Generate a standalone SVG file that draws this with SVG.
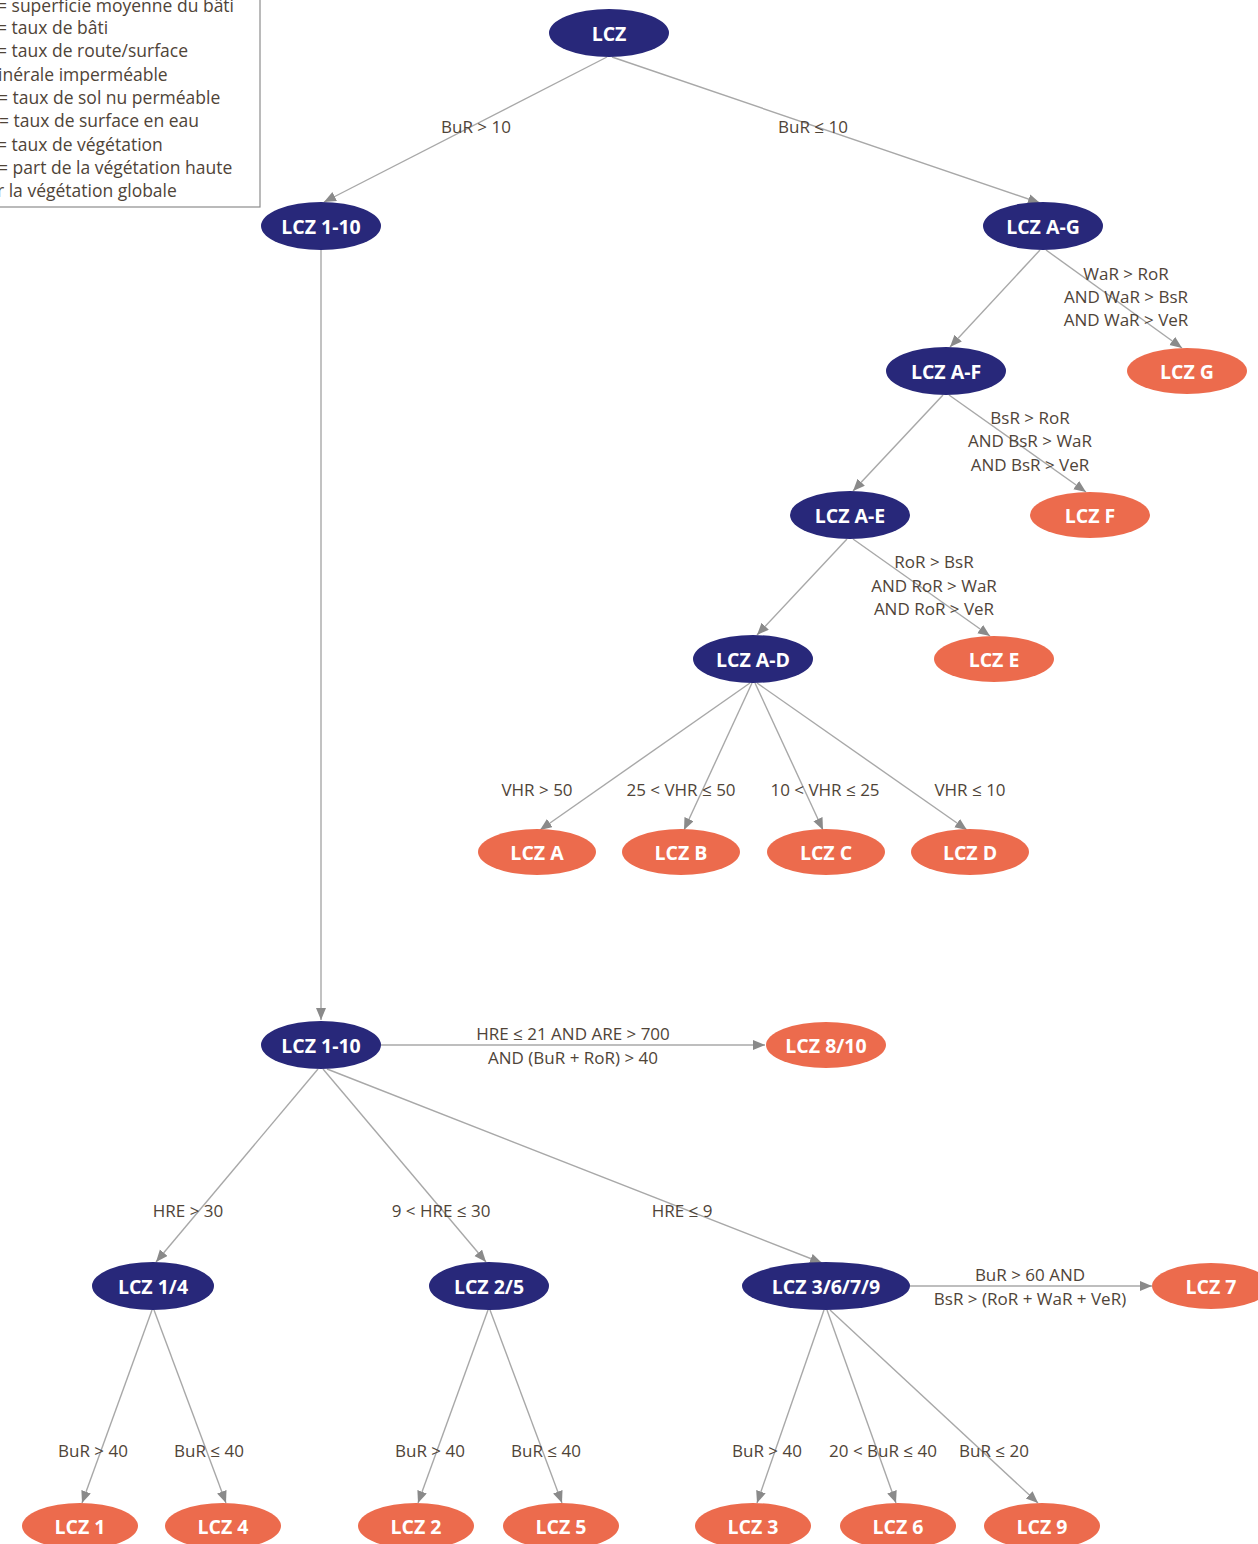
<svg xmlns="http://www.w3.org/2000/svg" width="1258" height="1544" viewBox="0 0 1258 1544">
<defs>
<marker id="ah" markerUnits="userSpaceOnUse" markerWidth="13" markerHeight="11" refX="12" refY="5" orient="auto">
<path d="M0,0 L12,5 L0,10 z" fill="#8a8a8a"/>
</marker>
<style>
.dk{fill:#28287a}
.or{fill:#ec6b4d}
.nt{font-family:"Open Sans","Liberation Sans",sans-serif;font-weight:700;font-size:19.5px;fill:#ffffff;text-anchor:middle;dominant-baseline:central}
.lb{font-family:"Open Sans","Liberation Sans",sans-serif;font-size:17px;fill:#4f4438;text-anchor:middle;dominant-baseline:central}
.lg{font-family:"Open Sans","Liberation Sans",sans-serif;font-size:17.5px;fill:#4f4438;dominant-baseline:central}
.ed{stroke:#a8a8a8;stroke-width:1.4;fill:none;marker-end:url(#ah)}
</style>
</defs>
<rect width="1258" height="1544" fill="#ffffff"/>
<g id="legend">
<rect x="-10" y="-10" width="270" height="217" fill="#ffffff" stroke="#8c8c8c" stroke-width="1.2"/>
<text class="lg" x="-3" y="5">= superficie moyenne du bâti</text>
<text class="lg" x="-3" y="27">= taux de bâti</text>
<text class="lg" x="-3" y="50">= taux de route/surface</text>
<text class="lg" x="-2" y="74">inérale imperméable</text>
<text class="lg" x="-2" y="97">= taux de sol nu perméable</text>
<text class="lg" x="-1" y="120">= taux de surface en eau</text>
<text class="lg" x="-3" y="144">= taux de végétation</text>
<text class="lg" x="-2" y="167">= part de la végétation haute</text>
<text class="lg" x="-3" y="190">r la végétation globale</text>
</g>
<g id="connectors">
<line class="ed" x1="607" y1="57" x2="324" y2="202"/>
<line class="ed" x1="612" y1="57" x2="1040" y2="203"/>
<line class="ed" x1="321" y1="250" x2="321" y2="1020"/>
<line class="ed" x1="1040" y1="250" x2="950" y2="347"/>
<line class="ed" x1="1046" y1="250" x2="1182" y2="348"/>
<line class="ed" x1="943" y1="395" x2="853" y2="491"/>
<line class="ed" x1="949" y1="395" x2="1086" y2="492"/>
<line class="ed" x1="847" y1="539" x2="757" y2="635"/>
<line class="ed" x1="853" y1="539" x2="990" y2="636"/>
<line class="ed" x1="750" y1="683" x2="540" y2="830"/>
<line class="ed" x1="752" y1="683" x2="684" y2="830"/>
<line class="ed" x1="755" y1="683" x2="823" y2="830"/>
<line class="ed" x1="757" y1="683" x2="967" y2="830"/>
<line class="ed" x1="381" y1="1045" x2="765" y2="1045"/>
<line class="ed" x1="318" y1="1069" x2="156" y2="1262"/>
<line class="ed" x1="323" y1="1069" x2="486" y2="1262"/>
<line class="ed" x1="327" y1="1069" x2="822" y2="1263"/>
<line class="ed" x1="910" y1="1286" x2="1152" y2="1286"/>
<line class="ed" x1="152" y1="1310" x2="82" y2="1503"/>
<line class="ed" x1="154" y1="1310" x2="226" y2="1503"/>
<line class="ed" x1="488" y1="1310" x2="418" y2="1503"/>
<line class="ed" x1="490" y1="1310" x2="562" y2="1503"/>
<line class="ed" x1="824" y1="1310" x2="757" y2="1503"/>
<line class="ed" x1="827" y1="1310" x2="896" y2="1503"/>
<line class="ed" x1="830" y1="1310" x2="1038" y2="1503"/>
</g>
<g id="labels">
<text class="lb" x="476" y="126">BuR &gt; 10</text>
<text class="lb" x="813" y="126">BuR ≤ 10</text>
<text class="lb" x="1126" y="273">WaR &gt; RoR</text>
<text class="lb" x="1126" y="296">AND WaR &gt; BsR</text>
<text class="lb" x="1126" y="319">AND WaR &gt; VeR</text>
<text class="lb" x="1030" y="417">BsR &gt; RoR</text>
<text class="lb" x="1030" y="440">AND BsR &gt; WaR</text>
<text class="lb" x="1030" y="464">AND BsR &gt; VeR</text>
<text class="lb" x="934" y="561">RoR &gt; BsR</text>
<text class="lb" x="934" y="585">AND RoR &gt; WaR</text>
<text class="lb" x="934" y="608">AND RoR &gt; VeR</text>
<text class="lb" x="537" y="789">VHR &gt; 50</text>
<text class="lb" x="681" y="789">25 &lt; VHR ≤ 50</text>
<text class="lb" x="825" y="789">10 &lt; VHR ≤ 25</text>
<text class="lb" x="970" y="789">VHR ≤ 10</text>
<text class="lb" x="573" y="1033">HRE ≤ 21 AND ARE &gt; 700</text>
<text class="lb" x="573" y="1057">AND (BuR + RoR) &gt; 40</text>
<text class="lb" x="188" y="1210">HRE &gt; 30</text>
<text class="lb" x="441" y="1210">9 &lt; HRE ≤ 30</text>
<text class="lb" x="682" y="1210">HRE ≤ 9</text>
<text class="lb" x="1030" y="1274">BuR &gt; 60 AND</text>
<text class="lb" x="1030" y="1298">BsR &gt; (RoR + WaR + VeR)</text>
<text class="lb" x="93" y="1450">BuR &gt; 40</text>
<text class="lb" x="209" y="1450">BuR ≤ 40</text>
<text class="lb" x="430" y="1450">BuR &gt; 40</text>
<text class="lb" x="546" y="1450">BuR ≤ 40</text>
<text class="lb" x="767" y="1450">BuR &gt; 40</text>
<text class="lb" x="883" y="1450">20 &lt; BuR ≤ 40</text>
<text class="lb" x="994" y="1450">BuR ≤ 20</text>
</g>
<g id="n-lcz"><ellipse class="dk" cx="609" cy="33" rx="60" ry="24"/><text class="nt" x="609" y="33">LCZ</text></g>
<g id="n-lcz110a"><ellipse class="dk" cx="321" cy="226" rx="60" ry="24"/><text class="nt" x="321" y="226">LCZ 1-10</text></g>
<g id="n-lczag"><ellipse class="dk" cx="1043" cy="226" rx="60" ry="24"/><text class="nt" x="1043" y="226">LCZ A-G</text></g>
<g id="n-lczaf"><ellipse class="dk" cx="946" cy="371" rx="60" ry="24"/><text class="nt" x="946" y="371">LCZ A-F</text></g>
<g id="n-lczg"><ellipse class="or" cx="1187" cy="371" rx="60" ry="23"/><text class="nt" x="1187" y="371">LCZ G</text></g>
<g id="n-lczae"><ellipse class="dk" cx="850" cy="515" rx="60" ry="24"/><text class="nt" x="850" y="515">LCZ A-E</text></g>
<g id="n-lczf"><ellipse class="or" cx="1090" cy="515" rx="60" ry="23"/><text class="nt" x="1090" y="515">LCZ F</text></g>
<g id="n-lczad"><ellipse class="dk" cx="753" cy="659" rx="60" ry="24"/><text class="nt" x="753" y="659">LCZ A-D</text></g>
<g id="n-lcze"><ellipse class="or" cx="994" cy="659" rx="60" ry="23"/><text class="nt" x="994" y="659">LCZ E</text></g>
<g id="n-lcza"><ellipse class="or" cx="537" cy="852" rx="59" ry="23"/><text class="nt" x="537" y="852">LCZ A</text></g>
<g id="n-lczb"><ellipse class="or" cx="681" cy="852" rx="59" ry="23"/><text class="nt" x="681" y="852">LCZ B</text></g>
<g id="n-lczc"><ellipse class="or" cx="826" cy="852" rx="59" ry="23"/><text class="nt" x="826" y="852">LCZ C</text></g>
<g id="n-lczd"><ellipse class="or" cx="970" cy="852" rx="59" ry="23"/><text class="nt" x="970" y="852">LCZ D</text></g>
<g id="n-lcz110b"><ellipse class="dk" cx="321" cy="1045" rx="60" ry="24"/><text class="nt" x="321" y="1045">LCZ 1-10</text></g>
<g id="n-lcz810"><ellipse class="or" cx="826" cy="1045" rx="60" ry="23"/><text class="nt" x="826" y="1045">LCZ 8/10</text></g>
<g id="n-lcz14"><ellipse class="dk" cx="153" cy="1286" rx="61" ry="24"/><text class="nt" x="153" y="1286">LCZ 1/4</text></g>
<g id="n-lcz25"><ellipse class="dk" cx="489" cy="1286" rx="60" ry="24"/><text class="nt" x="489" y="1286">LCZ 2/5</text></g>
<g id="n-lcz3679"><ellipse class="dk" cx="826" cy="1286" rx="84" ry="24"/><text class="nt" x="826" y="1286">LCZ 3/6/7/9</text></g>
<g id="n-lcz7"><ellipse class="or" cx="1211" cy="1286" rx="59" ry="23"/><text class="nt" x="1211" y="1286">LCZ 7</text></g>
<g id="n-lcz1"><ellipse class="or" cx="80" cy="1526" rx="58" ry="23"/><text class="nt" x="80" y="1526">LCZ 1</text></g>
<g id="n-lcz4"><ellipse class="or" cx="223" cy="1526" rx="58" ry="23"/><text class="nt" x="223" y="1526">LCZ 4</text></g>
<g id="n-lcz2"><ellipse class="or" cx="416" cy="1526" rx="58" ry="23"/><text class="nt" x="416" y="1526">LCZ 2</text></g>
<g id="n-lcz5"><ellipse class="or" cx="561" cy="1526" rx="58" ry="23"/><text class="nt" x="561" y="1526">LCZ 5</text></g>
<g id="n-lcz3"><ellipse class="or" cx="753" cy="1526" rx="58" ry="23"/><text class="nt" x="753" y="1526">LCZ 3</text></g>
<g id="n-lcz6"><ellipse class="or" cx="898" cy="1526" rx="58" ry="23"/><text class="nt" x="898" y="1526">LCZ 6</text></g>
<g id="n-lcz9"><ellipse class="or" cx="1042" cy="1526" rx="58" ry="23"/><text class="nt" x="1042" y="1526">LCZ 9</text></g>
</svg>
